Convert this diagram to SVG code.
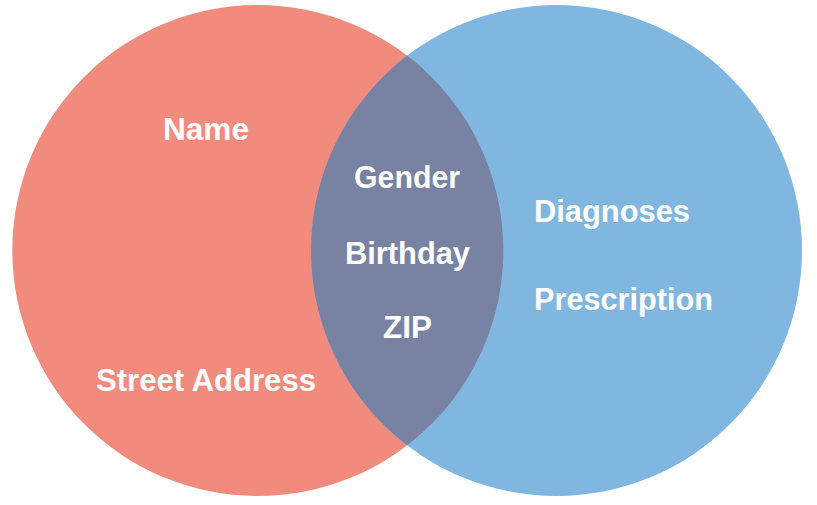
<svg xmlns="http://www.w3.org/2000/svg" width="817" height="505" viewBox="0 0 817 505">
<defs>
<style>
.lbl{font-family:"Liberation Sans",Arial,sans-serif;font-weight:bold;font-size:31px;fill:#ffffff;}
</style>
<clipPath id="clipL"><circle cx="257.8" cy="250.5" r="245.5"/></clipPath>
</defs>
<rect width="817" height="505" fill="#ffffff"/>
<g id="set-left"><circle cx="257.8" cy="250.5" r="245.5" fill="#F08B7E"/></g>
<g id="set-right"><circle cx="556.5" cy="250.5" r="245.5" fill="#80B7E0"/></g>
<g id="set-overlap"><circle cx="556.5" cy="250.5" r="245.5" fill="#7882A2" clip-path="url(#clipL)"/></g>
<g id="connectors"></g>
<g id="labels">
<text class="lbl" x="163" y="140" textLength="86" lengthAdjust="spacingAndGlyphs">Name</text>
<text class="lbl" x="96" y="391" textLength="220" lengthAdjust="spacingAndGlyphs">Street Address</text>
<text class="lbl" x="354" y="188" textLength="106" lengthAdjust="spacingAndGlyphs">Gender</text>
<text class="lbl" x="345" y="264" textLength="125" lengthAdjust="spacingAndGlyphs">Birthday</text>
<text class="lbl" x="383" y="338" textLength="49" lengthAdjust="spacingAndGlyphs">ZIP</text>
<text class="lbl" x="534" y="222" textLength="156" lengthAdjust="spacingAndGlyphs">Diagnoses</text>
<text class="lbl" x="534" y="310" textLength="179" lengthAdjust="spacingAndGlyphs">Prescription</text>
</g>
</svg>
